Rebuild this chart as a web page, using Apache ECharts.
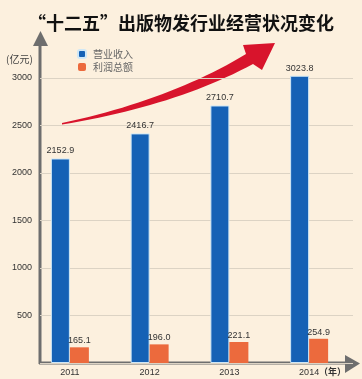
<!DOCTYPE html>
<html><head><meta charset="utf-8">
<script src="https://cdn.jsdelivr.net/npm/echarts@6/dist/echarts.min.js"></script>
<style>html,body{margin:0;padding:0;background:#fcf0de;}#c{width:362px;height:379px;}</style>
</head><body><div id="c"></div>
<script>
const categories = ['2011', '2012', '2013', '2014'];
const revenue = [2152.9, 2416.7, 2710.7, 3023.8];
const profit = [165.1, 196.0, 221.1, 254.9];
const yTicks = [0, 500, 1000, 1500, 2000, 2500, 3000];
const seriesNames = ['营业收入', '利润总额'];
const titleText = '“十二五”出版物发行业经营状况变化';
const unitText = '(亿元)';
const yearText = '（年）';

// decorative trend arrow outline (quadratic curves)
function quad(p0, c, p1, n) {
  const pts = [];
  for (let i = 0; i <= n; i++) {
    const t = i / n, u = 1 - t;
    pts.push([u*u*p0[0] + 2*u*t*c[0] + t*t*p1[0], u*u*p0[1] + 2*u*t*c[1] + t*t*p1[1]]);
  }
  return pts;
}
const arrowPts = quad([62, 123], [170, 100], [246, 54], 24)
  .concat([[243, 45], [275, 43], [262, 70]])
  .concat(quad([253, 64], [175, 106], [62, 124.5], 24));

const cjk = '"Noto Sans CJK SC", sans-serif';
const num = '"Liberation Sans", Arial, sans-serif';
const chart = echarts.init(document.getElementById('c'));
chart.setOption({
  backgroundColor: '#fcf0de',
  animation: false,
  title: { text: titleText, left: 'center', top: 9,
    textStyle: { fontFamily: cjk, fontSize: 18, fontWeight: 'bold', color: '#111' } },
  legend: { orient: 'vertical', left: 72, top: 44, itemWidth: 8, itemHeight: 8, itemGap: 3,
    data: seriesNames,
    textStyle: { fontFamily: cjk, fontSize: 10, color: '#666', padding: [0, 0, 0, 2] } },
  grid: [
    { left: 30, right: 13, top: 78, bottom: 16 },
    { left: 40, right: 9, top: 78, bottom: 16 }
  ],
  xAxis: [
    { type: 'category', gridIndex: 0, data: categories,
      axisLine: { show: false }, axisTick: { show: false },
      axisLabel: { margin: 5, fontFamily: num, fontSize: 9, color: '#333' } },
    { type: 'category', gridIndex: 1, data: categories, show: false }
  ],
  yAxis: [
    { type: 'value', gridIndex: 0, min: 0, max: 3000, interval: 500, show: false },
    { type: 'value', gridIndex: 1, min: 0, max: 3000, interval: 500,
      axisLine: { show: false }, axisTick: { show: false },
      splitLine: { lineStyle: { color: '#dcd3c4', width: 1 } },
      axisLabel: { margin: 8, fontFamily: num, fontSize: 9, color: '#333',
        formatter: v => (yTicks.indexOf(v) > 0 ? String(v) : '') } }
  ],
  series: [
    { name: seriesNames[0], type: 'bar', xAxisIndex: 0, yAxisIndex: 0, data: revenue,
      barWidth: 19, barGap: '0%', clip: false,
      itemStyle: { color: '#1561b5', borderColor: '#cfe7f6', borderWidth: 1 },
      label: { show: true, position: 'top', distance: 3, fontFamily: num, fontSize: 9, color: '#333',
        formatter: p => p.value.toFixed(1) } },
    { name: seriesNames[1], type: 'bar', xAxisIndex: 0, yAxisIndex: 0, data: profit,
      barWidth: 19, barGap: '0%', clip: false,
      itemStyle: { color: '#ec6a3d' },
      label: { show: true, position: 'top', distance: 2, fontFamily: num, fontSize: 9, color: '#333',
        formatter: p => p.value.toFixed(1) } }
  ],
  graphic: [
    { type: 'text', left: 6, top: 54, style: { text: unitText, font: '10px ' + cjk, fill: '#444' } },
    { type: 'text', left: 319, top: 367, style: { text: yearText, font: 'bold 9px ' + cjk, fill: '#333' } },
    { type: 'polygon', shape: { points: arrowPts }, style: { fill: '#d8142c' } },
    { type: 'line', shape: { x1: 40, y1: 364, x2: 40, y2: 44 }, style: { stroke: '#6e6e6e', lineWidth: 3 } },
    { type: 'polygon', shape: { points: [[33, 46], [40.5, 31], [48, 46]] }, style: { fill: '#6e6e6e' } },
    { type: 'line', shape: { x1: 39, y1: 363, x2: 348, y2: 363 }, style: { stroke: '#6e6e6e', lineWidth: 3 } },
    { type: 'polygon', shape: { points: [[345, 355], [360, 363.5], [345, 373]] }, style: { fill: '#6e6e6e' } }
  ]
});
</script></body></html>
